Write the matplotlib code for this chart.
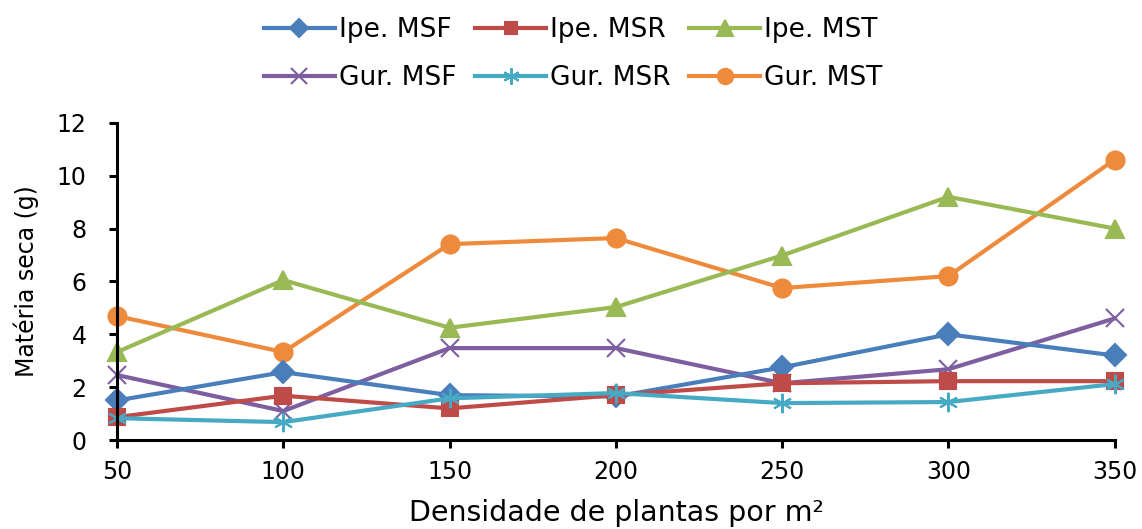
import matplotlib.pyplot as plt

plt.rcParams['font.family'] = ['DejaVu Sans']

densidade = [50, 100, 150, 200, 250, 300, 350]

ipe_msf = [1.5, 2.57, 1.7, 1.65, 2.75, 4.0, 3.2]
ipe_msr = [0.87, 1.68, 1.2, 1.7, 2.15, 2.23, 2.23]
ipe_mst = [3.33, 6.05, 4.25, 5.03, 6.98, 9.2, 8.0]
gur_msf = [2.46, 1.1, 3.48, 3.48, 2.15, 2.68, 4.6]
gur_msr = [0.83, 0.68, 1.58, 1.78, 1.4, 1.44, 2.12]
gur_mst = [4.69, 3.33, 7.41, 7.64, 5.75, 6.2, 10.6]

fig = plt.figure(figsize=(11.42, 5.29), dpi=100)
ax = fig.add_axes([0.1025, 0.168, 0.8735, 0.6]) 

series = [
    ('Ipe. MSF', ipe_msf, '#4A7EBB', 'D', 11),
    ('Gur. MSF', gur_msf, '#7D5FA0', 'x', 13),
    ('Ipe. MSR', ipe_msr, '#BE4B48', 's', 11),
    ('Gur. MSR', gur_msr, '#46AAC5', (6, 2, 0), 14),
    ('Ipe. MST', ipe_mst, '#98B954', '^', 13),
    ('Gur. MST', gur_mst, '#EE8A3C', 'o', 13),
]
# draw order so that the lower series stay on top like the original
draw_order = [5, 4, 1, 0, 2, 3]
lines = {}
for i in draw_order:
    name, vals, col, mk, ms = series[i]
    ln, = ax.plot(densidade, vals, color=col, lw=3, marker=mk, ms=ms,
                  mew=1.5, label=name, clip_on=False)
    lines[i] = ln

ax.set_xlim(50, 350)
ax.set_ylim(0, 12)
ax.set_xticks(densidade)
ax.set_yticks(range(0, 13, 2))
for s in ['top', 'right']:
    ax.spines[s].set_visible(False)
for s in ['left', 'bottom']:
    ax.spines[s].set_linewidth(2.2)
ax.tick_params(axis='both', labelsize=17, width=2.2, length=6, colors='black')
ax.tick_params(axis='x', pad=8)
ax.tick_params(axis='y', pad=16)
ax.set_ylabel('Matéria seca (g)', fontsize=17)
ax.yaxis.set_label_coords(-0.078, 0.5)
ax.set_xlabel('Densidade de plantas por m²', fontsize=20.5)
ax.xaxis.set_label_coords(0.501, -0.185)

handles = [lines[i] for i in range(6)]
fig.legend(handles, [h.get_label() for h in handles], ncol=3, loc='upper center',
           bbox_to_anchor=(0.502, 1.013), frameon=False, fontsize=19,
           handlelength=2.7, handletextpad=0.15, columnspacing=0.7,
           labelspacing=0.85, markerscale=0.85)

fig.savefig('out.png', dpi=100)
